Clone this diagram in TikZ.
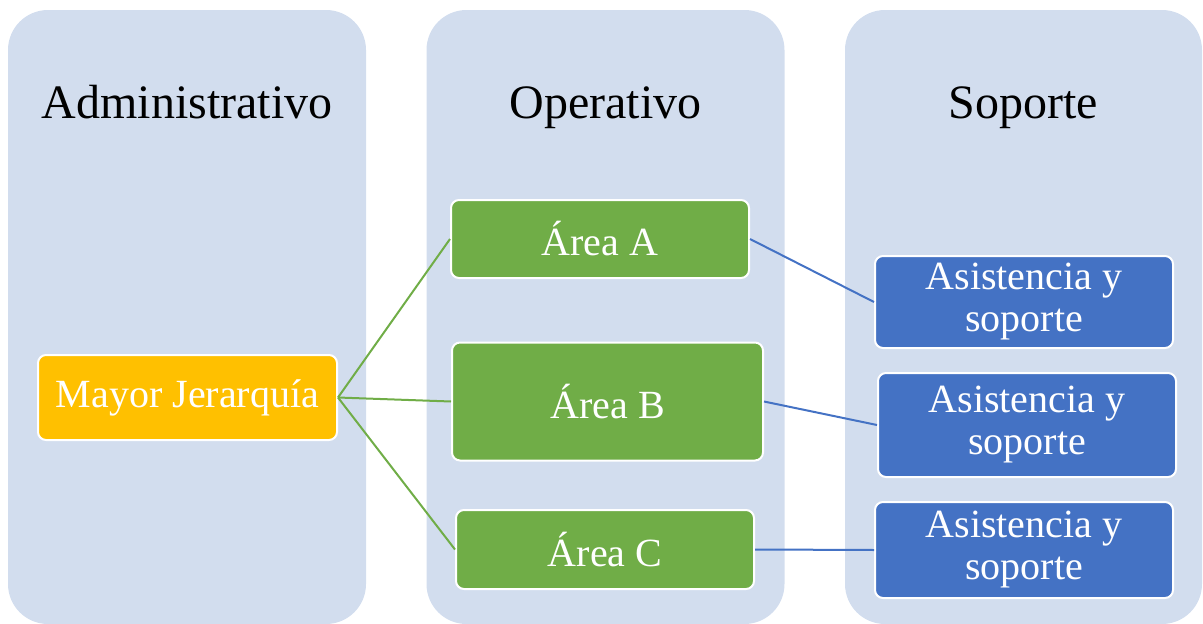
\documentclass[tikz,border=0pt]{standalone}
\usepackage{fontspec}
\setmainfont{Liberation Serif}
\definecolor{colfill}{HTML}{D2DDEE}
\definecolor{gold}{HTML}{FFC000}
\definecolor{leaf}{HTML}{70AD47}
\definecolor{sky}{HTML}{4472C4}
\tikzset{
  column/.style={fill=colfill, draw=none, rounded corners=40pt, inner sep=0pt},
  header/.style={font=\fontsize{48}{50}\selectfont, text=black, inner sep=0pt},
  boxbase/.style={draw=white, line width=2pt, rounded corners=8pt, inner sep=0pt,
                  text=white, align=center, font=\fontsize{40}{42}\selectfont},
  topbox/.style={boxbase, fill=gold},
  areabox/.style={boxbase, fill=leaf},
  helpbox/.style={boxbase, fill=sky},
  greenlink/.style={draw=leaf, line width=2pt},
  bluelink/.style={draw=sky, line width=2pt},
}
\begin{document}
\begin{tikzpicture}[x=1pt, y=-1pt]
\useasboundingbox (0,0) rectangle (1203,624);
% three background columns
\node[column, minimum width=358pt, minimum height=614pt] (colAdm) at (187,317) {};
\node[column, minimum width=358pt, minimum height=614pt] (colOpe) at (605.5,317) {};
\node[column, minimum width=357pt, minimum height=614pt] (colSop) at (1023.5,317) {};
% column titles
\node[header, anchor=base] (hAdm) at (187,118) {Administrativo};
\node[header, anchor=base] (hOpe) at (605.5,118) {Operativo};
\node[header, anchor=base] (hSop) at (1023.5,118) {Soporte};
% boxes
\node[topbox, minimum width=299pt, minimum height=85pt] (mayor) at (187.5,397.5) {Mayor Jerarquía};
\node[areabox, minimum width=298pt, minimum height=78pt] (areaA) at (600,239) {Área A};
\node[areabox, minimum width=311pt, minimum height=118pt] (areaB) at (607.5,401.5) {Área B};
\node[areabox, minimum width=298pt, minimum height=79pt] (areaC) at (605,549.5) {Área C};
\node[helpbox, minimum width=298pt, minimum height=92pt] (sop1) at (1024,302) {Asistencia y\\soporte};
\node[helpbox, minimum width=298pt, minimum height=104pt] (sop2) at (1027,425) {Asistencia y\\soporte};
\node[helpbox, minimum width=298pt, minimum height=96pt] (sop3) at (1024,550) {Asistencia y\\soporte};
% connectors
\draw[greenlink] (mayor.east) -- (areaA.west);
\draw[greenlink] (mayor.east) -- (areaB.west);
\draw[greenlink] (mayor.east) -- (areaC.west);
\draw[bluelink] (areaA.east) -- (sop1.west);
\draw[bluelink] (areaB.east) -- (sop2.west);
\draw[bluelink] (areaC.east) -- (sop3.west);
\end{tikzpicture}
\end{document}
